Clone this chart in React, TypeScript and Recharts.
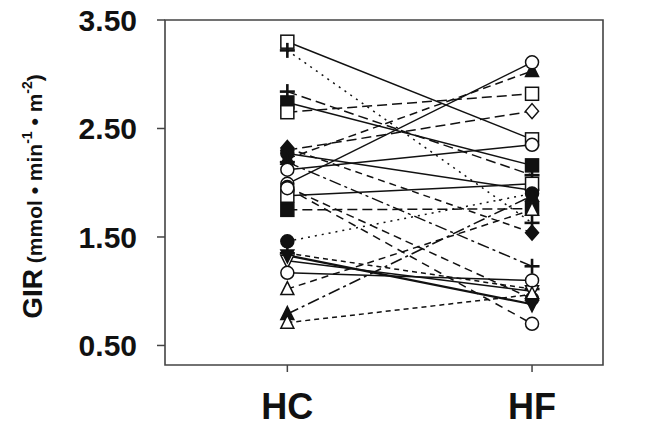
import React from 'react';
import { LineChart, Line, XAxis, YAxis, ReferenceArea } from 'recharts';

// paired values per subject
const subjects = ['s1','s2','s3','s4','s5','s6','s7','s8','s9','s10','s11','s12','s13','s14','s15','s16','s17','s18','s19','s20','s21','s22','s23','s24'];
const hcValues = [3.30, 3.22, 2.84, 2.74, 2.65, 2.30, 2.32, 2.27, 2.22, 2.19, 2.12, 1.99, 1.96, 1.88, 1.75, 1.46, 1.35, 1.28, 1.17, 1.02, 0.79, 0.71, 1.95, 1.33];
const hfValues = [2.40, 1.63, 2.07, 2.16, 2.82, 2.66, 1.54, 1.93, 3.03, 1.23, 2.35, 3.11, 0.93, 1.99, 1.76, 1.90, 1.02, 1.00, 1.10, 1.75, 1.88, 0.97, 0.70, 0.88];
const conditions = ['HC', 'HF'];
const yTicks = [0.5, 1.5, 2.5, 3.5];

// per-subject marker and line style
const markers = ['squareOpen','plus','plus','squareFilled','squareOpen','diamondOpen','diamondFilled','circleFilled','triangleFilled','plus','circleOpen','circleOpen','circleFilled','squareOpen','squareFilled','circleFilled','plus','triDownOpen','circleOpen','triangleOpen','triangleFilled','triangleOpen','circleOpen','triDownFilled'];
const dashes = ['', '2 5', '10 5', '', '10 5', '10 5', '7 5', '', '8 5', '12 4 3 4', '', '', '8 5', '', '10 5', '2 5', '5 4', '', '', '7 5', '12 4 3 4', '5 4', '8 6', ''];

const INK = '#111';
const FONT = '"Liberation Sans", Arial, Helvetica, sans-serif';

function Marker({ cx, cy, kind }: { cx: number; cy: number; kind: string }) {
  const s = 6.5;
  const open = kind.endsWith('Open');
  const fill = open ? '#fff' : INK;
  const sw = 1.5;
  if (kind.startsWith('circle')) return <circle cx={cx} cy={cy} r={s} fill={fill} stroke={INK} strokeWidth={sw} />;
  if (kind.startsWith('square')) return <rect x={cx - s} y={cy - s} width={2 * s} height={2 * s} fill={fill} stroke={INK} strokeWidth={sw} />;
  if (kind.startsWith('diamond')) return <polygon points={`${cx},${cy - s - 1} ${cx + s},${cy} ${cx},${cy + s + 1} ${cx - s},${cy}`} fill={fill} stroke={INK} strokeWidth={sw} />;
  if (kind.startsWith('triangle')) return <polygon points={`${cx},${cy - s - 1} ${cx + s},${cy + s - 1} ${cx - s},${cy + s - 1}`} fill={fill} stroke={INK} strokeWidth={sw} />;
  if (kind.startsWith('triDown')) return <polygon points={`${cx},${cy + s + 1} ${cx + s},${cy - s + 1} ${cx - s},${cy - s + 1}`} fill={fill} stroke={INK} strokeWidth={sw} />;
  return (
    <g stroke={INK} strokeWidth={2.6}>
      <line x1={cx - s - 1} x2={cx + s + 1} y1={cy} y2={cy} />
      <line x1={cx} x2={cx} y1={cy - s - 1} y2={cy + s + 1} />
    </g>
  );
}

const YLabel = ({ viewBox }: any) => {
  const cx = 42;
  const cy = viewBox ? viewBox.y + viewBox.height / 2 + 4 : 196;
  return (
    <text x={cx} y={cy} transform={`rotate(-90 ${cx} ${cy})`} textAnchor="middle" fontFamily={FONT} fontWeight="bold" fill={INK}>
      <tspan fontSize={28}>GIR</tspan>
      <tspan fontSize={21}>{' (mmol \u2022 min'}</tspan>
      <tspan fontSize={14} dy={-10}>-1</tspan>
      <tspan fontSize={21} dy={10}>{' \u2022 m'}</tspan>
      <tspan fontSize={14} dy={-10}>-2</tspan>
      <tspan fontSize={21} dy={10}>)</tspan>
    </text>
  );
};

export default function App() {
  const series = subjects.map((name, i) => ({
    name,
    marker: markers[i],
    dash: dashes[i],
    data: [
      { x: 1, y: hcValues[i] },
      { x: 2, y: hfValues[i] },
    ],
  }));

  return (
    <div style={{ position: 'absolute', left: 0, top: 0, background: '#fff' }}>
      <LineChart width={649} height={426} margin={{ top: 20, right: 46, bottom: 0, left: 0 }}>
        <XAxis
          dataKey="x"
          type="number"
          domain={[0.5, 2.29]}
          ticks={[1, 2]}
          tickFormatter={(v: number) => conditions[v - 1]}
          axisLine={false}
          tickSize={7}
          tickLine={{ stroke: '#444', strokeWidth: 1.5 }}
          tickMargin={21}
          height={61}
          allowDuplicatedCategory={false}
          tick={{ fontSize: 36, fontWeight: 'bold', fill: INK, fontFamily: FONT }}
        />
        <YAxis
          type="number"
          domain={[0.32, 3.5]}
          ticks={yTicks}
          tickFormatter={(v: number) => v.toFixed(2)}
          axisLine={false}
          tickSize={8}
          tickLine={{ stroke: '#444', strokeWidth: 1.5 }}
          tickMargin={20}
          width={165}
          tick={{ fontSize: 30, fontWeight: 'bold', fill: INK, fontFamily: FONT }}
          label={{ content: YLabel }}
        />
        <ReferenceArea x1={0.5} x2={2.29} y1={0.32} y2={3.5} fill="none" stroke="#444" strokeWidth={1.6} ifOverflow="visible" />
        {series.map((s) => (
          <Line
            key={s.name}
            data={s.data}
            dataKey="y"
            type="linear"
            stroke={INK}
            strokeWidth={s.name === 's24' ? 2.2 : 1.5}
            strokeDasharray={s.dash || undefined}
            isAnimationActive={false}
            activeDot={false}
            legendType="none"
            dot={(p: any) => <Marker key={`${s.name}-${p.index}`} cx={p.cx} cy={p.cy} kind={s.marker} />}
          />
        ))}
      </LineChart>
    </div>
  );
}
